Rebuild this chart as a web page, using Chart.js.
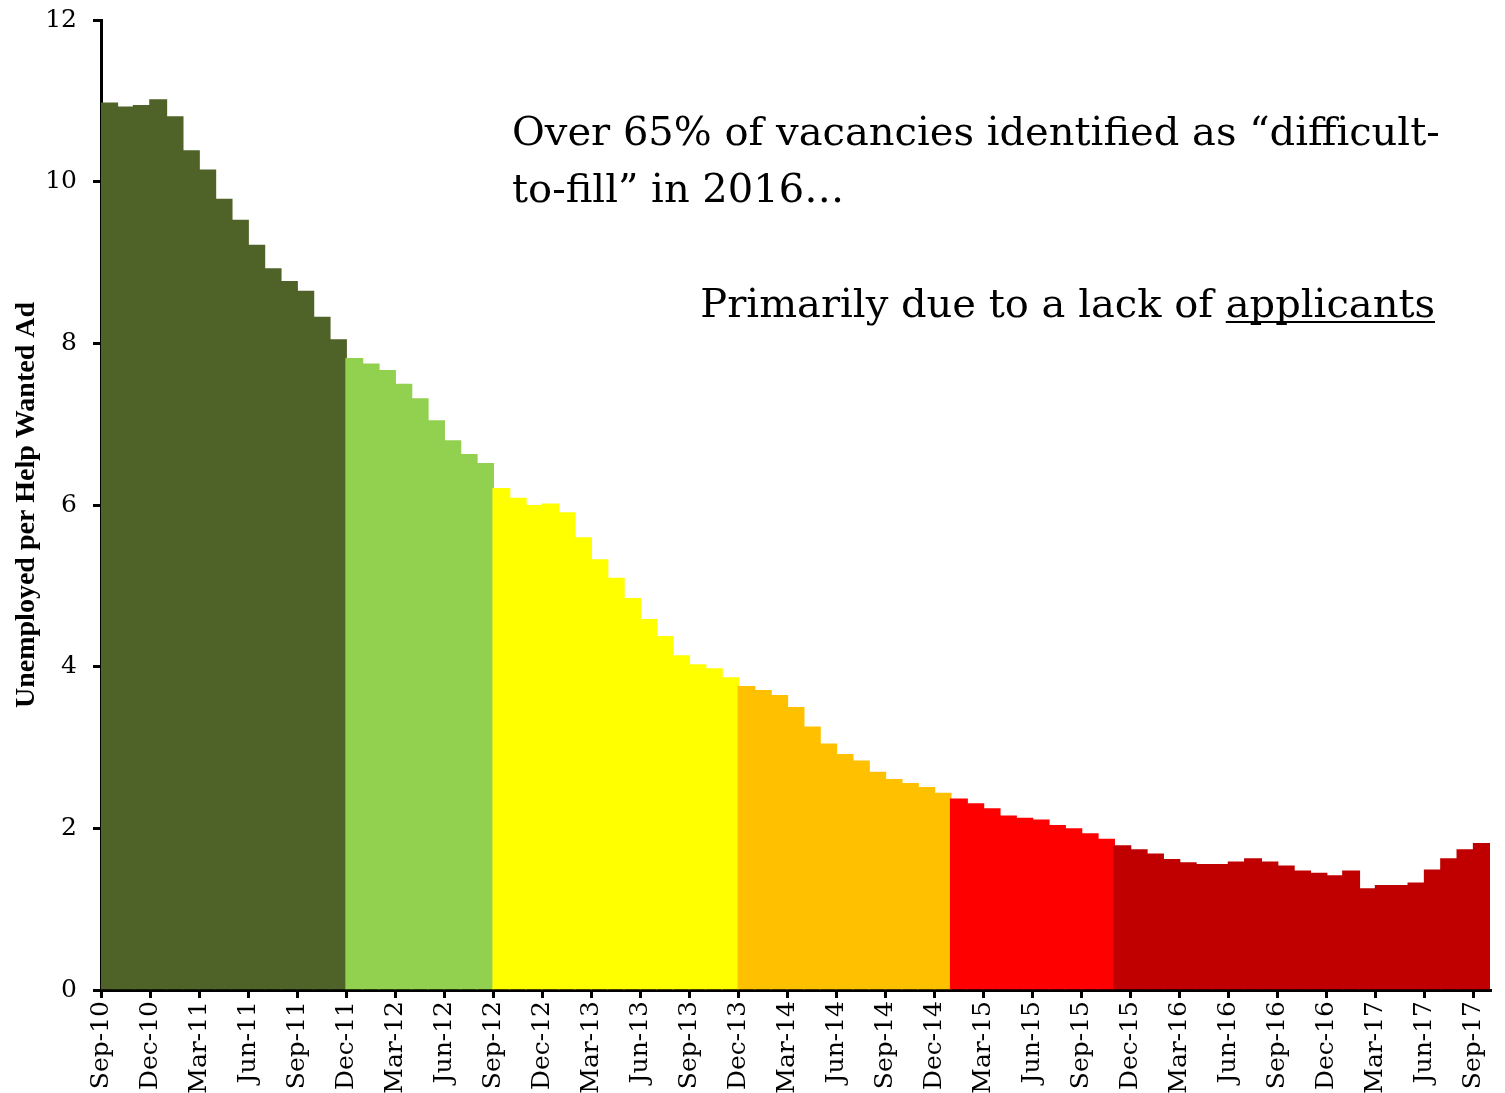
<!DOCTYPE html>
<html>
<head>
<meta charset="utf-8">
<script src="https://cdn.jsdelivr.net/npm/chart.js@4.4.0/dist/chart.umd.min.js"></script>
<style>
    html, body { margin: 0; padding: 0; background: #fff; }
    #wrap { width: 1505px; height: 1093px; }
</style>
</head>
<body>
<div id="wrap"><canvas id="bar-chart" width="1505" height="1093"></canvas></div>
<script>
// Monthly categories, Sep-10 .. Sep-17
var months = [
    'Sep-10', 'Oct-10', 'Nov-10', 'Dec-10', 'Jan-11', 'Feb-11', 'Mar-11', 'Apr-11', 'May-11', 'Jun-11', 'Jul-11', 'Aug-11',
    'Sep-11', 'Oct-11', 'Nov-11', 'Dec-11', 'Jan-12', 'Feb-12', 'Mar-12', 'Apr-12', 'May-12', 'Jun-12', 'Jul-12', 'Aug-12',
    'Sep-12', 'Oct-12', 'Nov-12', 'Dec-12', 'Jan-13', 'Feb-13', 'Mar-13', 'Apr-13', 'May-13', 'Jun-13', 'Jul-13', 'Aug-13',
    'Sep-13', 'Oct-13', 'Nov-13', 'Dec-13', 'Jan-14', 'Feb-14', 'Mar-14', 'Apr-14', 'May-14', 'Jun-14', 'Jul-14', 'Aug-14',
    'Sep-14', 'Oct-14', 'Nov-14', 'Dec-14', 'Jan-15', 'Feb-15', 'Mar-15', 'Apr-15', 'May-15', 'Jun-15', 'Jul-15', 'Aug-15',
    'Sep-15', 'Oct-15', 'Nov-15', 'Dec-15', 'Jan-16', 'Feb-16', 'Mar-16', 'Apr-16', 'May-16', 'Jun-16', 'Jul-16', 'Aug-16',
    'Sep-16', 'Oct-16', 'Nov-16', 'Dec-16', 'Jan-17', 'Feb-17', 'Mar-17', 'Apr-17', 'May-17', 'Jun-17', 'Jul-17', 'Aug-17',
    'Sep-17'
];

// Unemployed per help wanted ad
var values = [
    10.97, 10.92, 10.94, 11.01, 10.80, 10.38, 10.14, 9.78, 9.52, 9.21, 8.92, 8.76,
    8.64, 8.32, 8.04, 7.81, 7.74, 7.66, 7.49, 7.31, 7.04, 6.79, 6.62, 6.51,
    6.20, 6.08, 5.99, 6.01, 5.90, 5.59, 5.32, 5.09, 4.84, 4.58, 4.37, 4.13,
    4.02, 3.97, 3.86, 3.75, 3.70, 3.64, 3.49, 3.25, 3.04, 2.91, 2.83, 2.69,
    2.60, 2.55, 2.50, 2.43, 2.36, 2.30, 2.24, 2.15, 2.12, 2.10, 2.03, 1.99,
    1.93, 1.86, 1.78, 1.73, 1.68, 1.61, 1.57, 1.55, 1.55, 1.58, 1.62, 1.58,
    1.53, 1.47, 1.44, 1.41, 1.47, 1.25, 1.29, 1.29, 1.32, 1.48, 1.62, 1.73,
    1.81
];

// Colour bands: first month of each band
var bandStarts = ['Sep-10', 'Dec-11', 'Sep-12', 'Dec-13', 'Jan-15', 'Nov-15'];
var bandColors = ['#4f6228', '#92d050', '#ffff00', '#ffc000', '#ff0000', '#c00000'];

var tickLabels = [
    'Sep-10', 'Dec-10', 'Mar-11', 'Jun-11', 'Sep-11', 'Dec-11', 'Mar-12', 'Jun-12', 'Sep-12', 'Dec-12',
    'Mar-13', 'Jun-13', 'Sep-13', 'Dec-13', 'Mar-14', 'Jun-14', 'Sep-14', 'Dec-14', 'Mar-15', 'Jun-15',
    'Sep-15', 'Dec-15', 'Mar-16', 'Jun-16', 'Sep-16', 'Dec-16', 'Mar-17', 'Jun-17', 'Sep-17'
];

var yTicks = [0, 2, 4, 6, 8, 10, 12];

var noteTop = ['Over 65% of vacancies identified as \u201cdifficult-', 'to-fill\u201d in 2016\u2026'];
var noteBottom = ['Primarily due to a lack of ', 'applicants'];

// bar colours from bands
var barColors = months.map(function (m, i) {
    var c = bandColors[0];
    bandStarts.forEach(function (s, b) {
        if (i >= months.indexOf(s)) c = bandColors[b];
    });
    return c;
});

// bars sit between ticks: month i spans [i, i+1]
var points = values.map(function (v, i) {
    return { x: i + 0.5, y: v };
});

var notesPlugin = {
    id: 'notes',
    afterDraw: function (chart) {
        var ctx = chart.ctx;
        ctx.save();
        ctx.fillStyle = '#000';
        ctx.textBaseline = 'alphabetic';
        // fit first line to its width in the original
        ctx.font = '40px "DejaVu Serif"';
        var size = 40 * 928 / ctx.measureText(noteTop[0]).width;
        ctx.font = size.toFixed(1) + 'px "DejaVu Serif"';
        ctx.textAlign = 'left';
        ctx.fillText(noteTop[0], 512, 145);
        ctx.fillText(noteTop[1], 512, 202);

        var right = 1435;
        var wB = ctx.measureText(noteBottom[1]).width;
        var wA = ctx.measureText(noteBottom[0]).width;
        ctx.fillText(noteBottom[0], right - wB - wA, 317);
        ctx.fillText(noteBottom[1], right - wB, 317);
        ctx.fillRect(right - wB, 321, wB, 2);
        ctx.restore();
    }
};

var ctx = document.getElementById('bar-chart').getContext('2d');
var barChart = new Chart(ctx, {
    type: 'bar',
    data: {
        datasets: [
            {
                data: points,
                backgroundColor: barColors,
                borderWidth: 0,
                barPercentage: 1,
                categoryPercentage: 1,
                inflateAmount: 0.8,
            },
        ],
    },
    options: {
        responsive: false,
        animation: false,
        layout: { padding: { top: 20, right: 15, left: 0, bottom: 0 } },
        plugins: {
            legend: { display: false },
            tooltip: { enabled: false },
        },
        scales: {
            x: {
                type: 'linear',
                min: 0,
                max: months.length,
                offset: false,
                afterBuildTicks: function (scale) {
                    scale.ticks = tickLabels.map(function (t, k) {
                        return { value: k * 3 };
                    });
                },
                afterFit: function (scale) {
                    scale.height = 103;
                    scale.paddingLeft = 0;
                    scale.paddingRight = 0;
                },
                ticks: {
                    autoSkip: false,
                    maxRotation: 90,
                    minRotation: 90,
                    padding: 3,
                    color: '#000',
                    font: { family: 'DejaVu Serif', size: 25 },
                    callback: function (v) {
                        return tickLabels[v / 3];
                    },
                },
                grid: {
                    offset: false,
                    drawOnChartArea: false,
                    drawTicks: true,
                    tickLength: 8,
                    lineWidth: 3,
                    color: '#000',
                },
                border: { display: true, color: '#000', width: 3 },
            },
            y: {
                min: 0,
                max: 12,
                afterBuildTicks: function (scale) {
                    scale.ticks = yTicks.map(function (v) {
                        return { value: v };
                    });
                },
                afterFit: function (scale) {
                    scale.width = 101;
                    scale.paddingTop = 0;
                    scale.paddingBottom = 0;
                },
                ticks: {
                    padding: 16,
                    color: '#000',
                    font: { family: 'DejaVu Serif', size: 25 },
                },
                grid: {
                    drawOnChartArea: false,
                    drawTicks: true,
                    tickLength: 8,
                    lineWidth: 3,
                    color: '#000',
                },
                border: { display: true, color: '#000', width: 3 },
                title: {
                    display: true,
                    text: 'Unemployed per Help Wanted Ad',
                    color: '#000',
                    padding: { top: 10, bottom: 0 },
                    font: { family: 'Liberation Serif', size: 28, weight: 'bold' },
                },
            },
        },
    },
    plugins: [notesPlugin],
});
</script>
</body>
</html>
